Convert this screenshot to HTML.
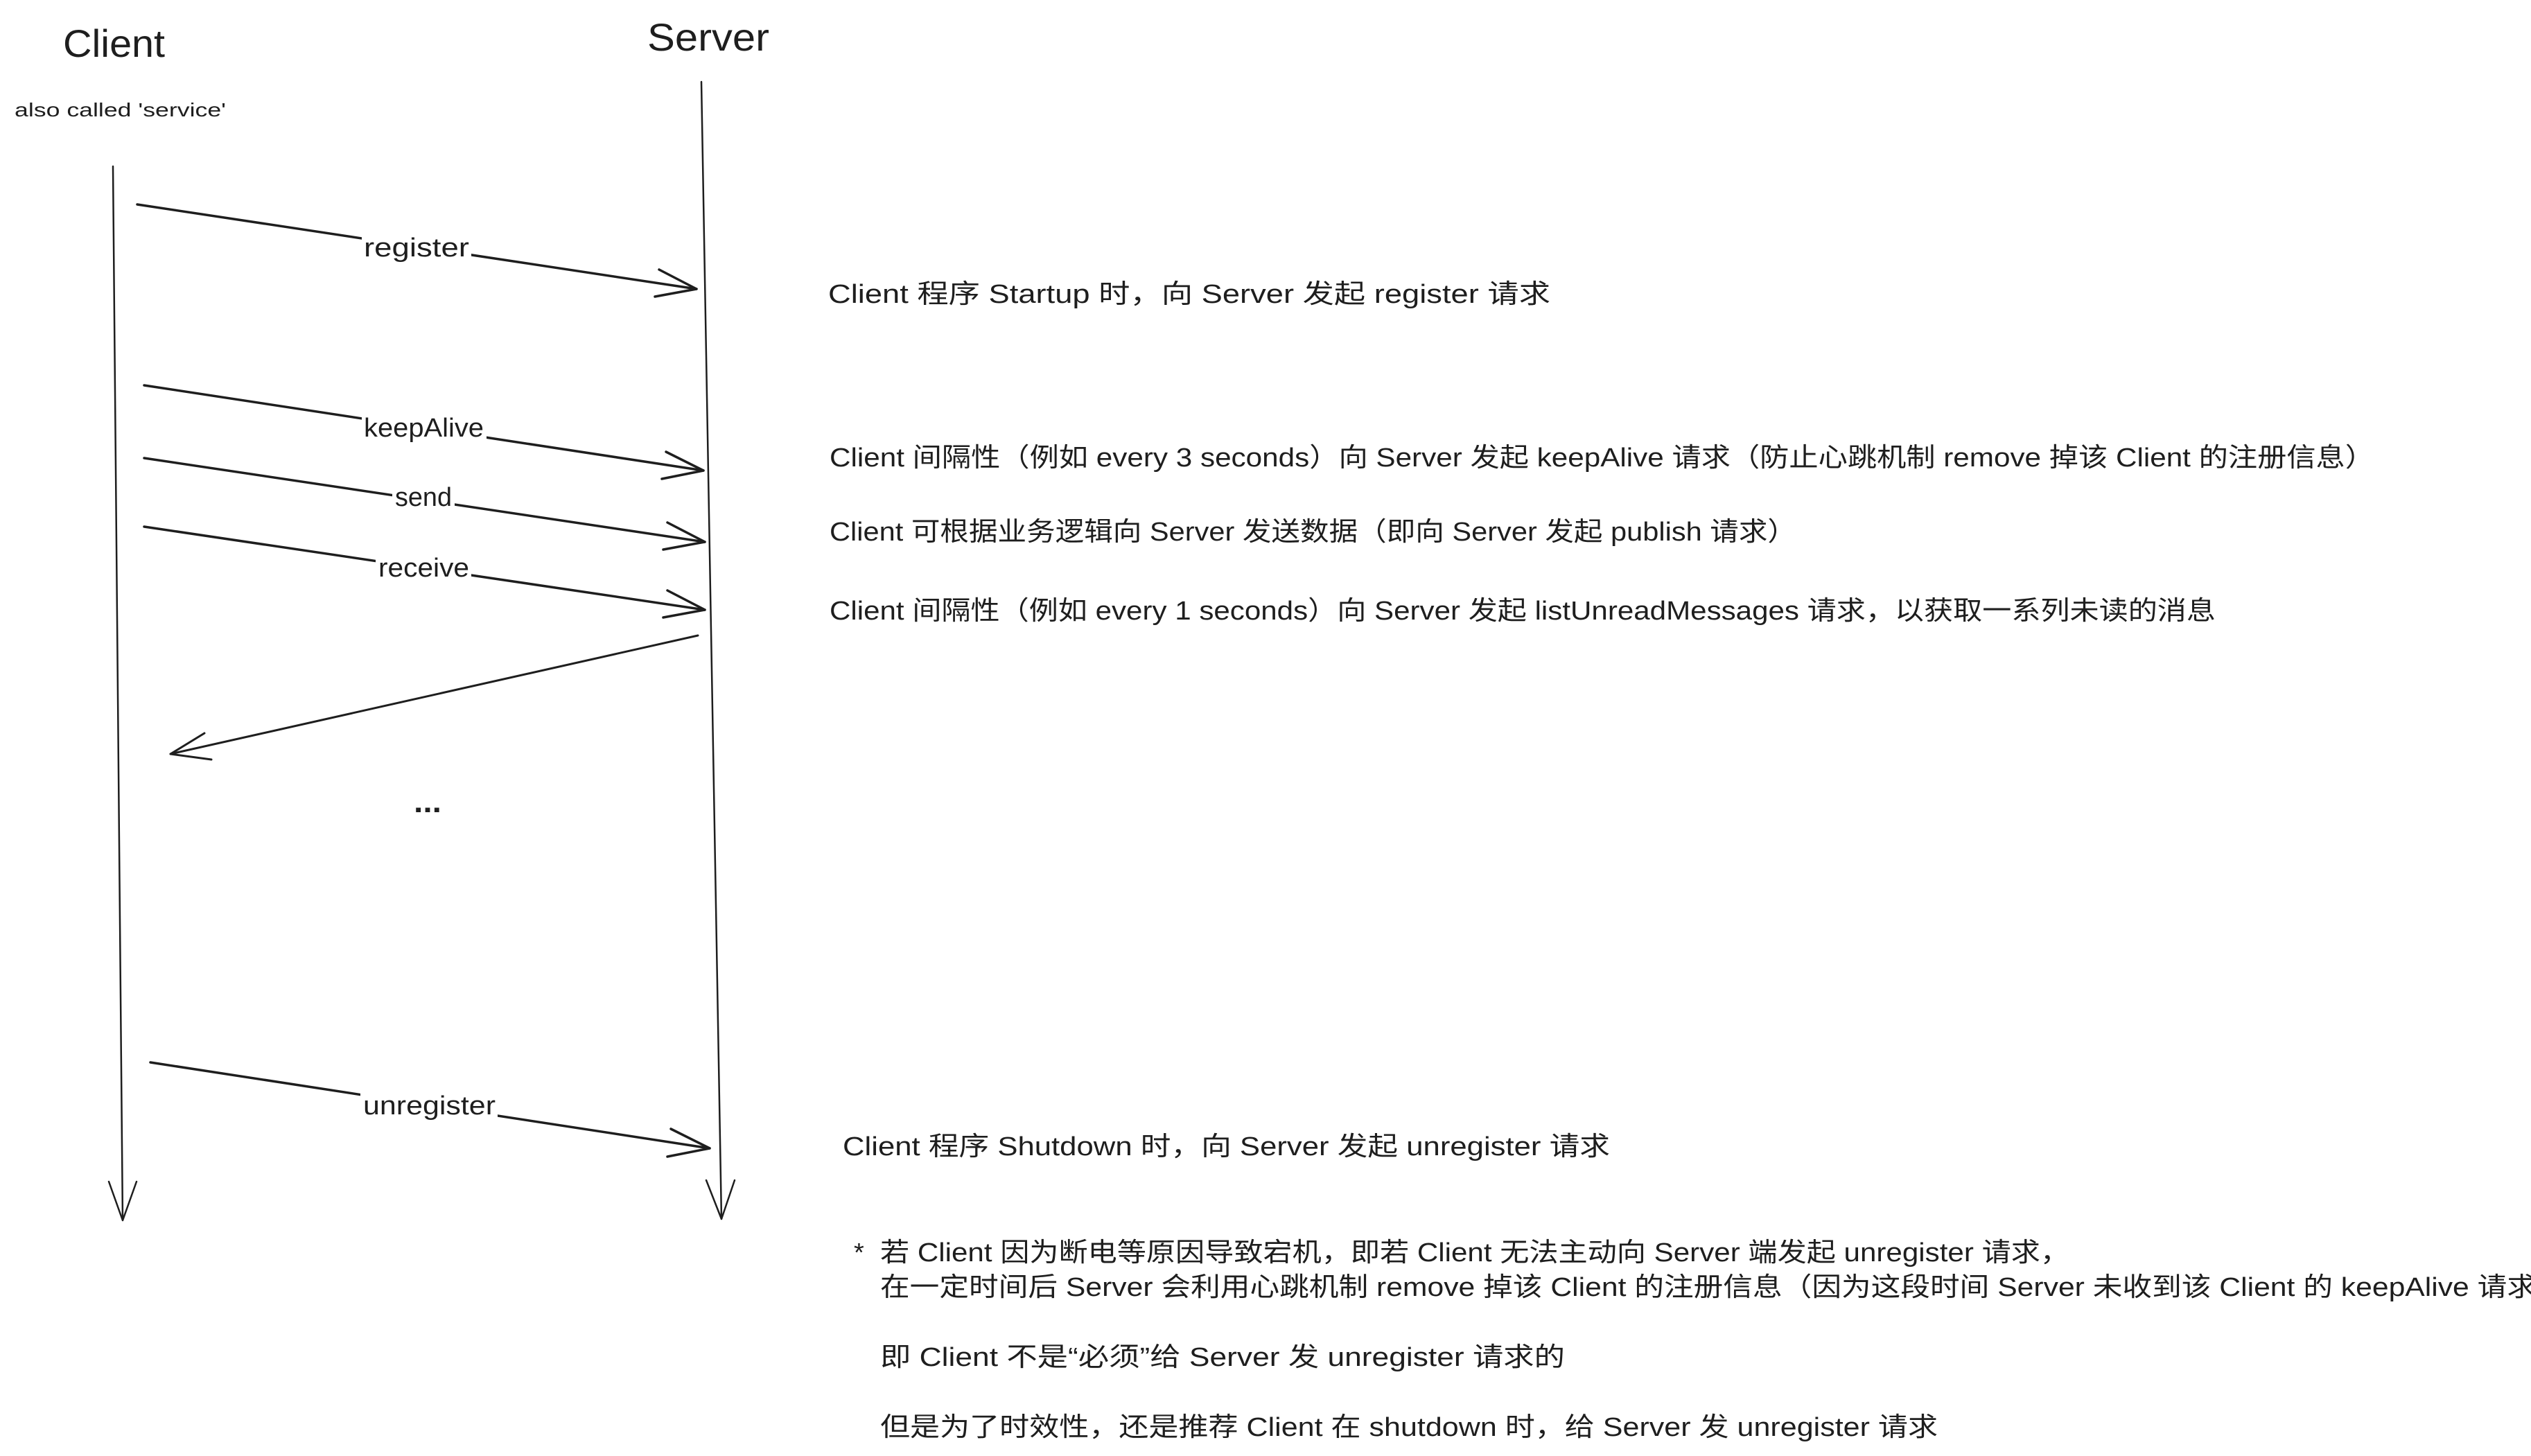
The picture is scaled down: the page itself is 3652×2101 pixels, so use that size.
<!DOCTYPE html>
<html><head><meta charset="utf-8"><style>
html,body{margin:0;padding:0;background:#fff;}
svg{display:block;}
text{font-family:"Liberation Sans","Noto Sans CJK SC",sans-serif;fill:#1e1e1e;}
</style></head><body>
<svg width="3652" height="2101" viewBox="0 0 3652 2101" xmlns="http://www.w3.org/2000/svg">
<g stroke="#1e1e1e" fill="none" stroke-linecap="round" stroke-linejoin="round">
<path d="M163 240 L177 1761" stroke-width="2.5"/>
<path d="M157 1705 L177 1761 L197 1705" stroke-width="2.5"/>
<path d="M1012 118 L1041 1759" stroke-width="2.5"/>
<path d="M1019 1703 L1041 1759 L1060 1703" stroke-width="2.5"/>
<path d="M198 295 L1005 417" stroke-width="3.5"/>
<path d="M951 389 L1005 417 L945 428" stroke-width="3.5"/>
<path d="M208 556 L1015 679" stroke-width="3.5"/>
<path d="M961 652 L1015 679 L955 691" stroke-width="3.5"/>
<path d="M208 661 L1017 782" stroke-width="3.5"/>
<path d="M963 754 L1017 782 L957 793" stroke-width="3.5"/>
<path d="M208 760 L1017 880" stroke-width="3.5"/>
<path d="M963 852 L1017 880 L957 891" stroke-width="3.5"/>
<path d="M1007 917 L246 1088" stroke-width="3"/>
<path d="M295 1058 L246 1088 L305 1096" stroke-width="3"/>
<path d="M217 1533 L1024 1657" stroke-width="3.5"/>
<path d="M968 1629 L1024 1657 L963 1669" stroke-width="3.5"/>
</g>
<g fill="#fff">
<rect x="522" y="335" width="158" height="44"/>
<rect x="522" y="595" width="180" height="44"/>
<rect x="566" y="697" width="90" height="44"/>
<rect x="542" y="799" width="138" height="44"/>
<rect x="520" y="1574" width="198" height="44"/>
</g>
<text x="91" y="82" font-size="56" textLength="147" lengthAdjust="spacingAndGlyphs">Client</text>
<text x="934" y="73" font-size="56" textLength="176" lengthAdjust="spacingAndGlyphs">Server</text>
<text x="21" y="168" font-size="28" textLength="305" lengthAdjust="spacingAndGlyphs">also called 'service'</text>
<g font-size="38">
<text x="525" y="370" textLength="152" lengthAdjust="spacingAndGlyphs">register</text>
<text x="525" y="630" textLength="173" lengthAdjust="spacingAndGlyphs">keepAlive</text>
<text x="570" y="730" textLength="82" lengthAdjust="spacingAndGlyphs">send</text>
<text x="546" y="832" textLength="131" lengthAdjust="spacingAndGlyphs">receive</text>
<text x="524" y="1608" textLength="191" lengthAdjust="spacingAndGlyphs">unregister</text>
</g>
<text x="597" y="1172" font-size="44" font-weight="bold" textLength="40" lengthAdjust="spacingAndGlyphs">...</text>
<g font-size="38">
<text x="1195" y="437" textLength="1042" lengthAdjust="spacingAndGlyphs">Client 程序 Startup 时，向 Server 发起 register 请求</text>
<text x="1197" y="673" textLength="2229" lengthAdjust="spacingAndGlyphs">Client 间隔性（例如 every 3 seconds）向 Server 发起 keepAlive 请求（防止心跳机制 remove 掉该 Client 的注册信息）</text>
<text x="1197" y="780" textLength="1395" lengthAdjust="spacingAndGlyphs">Client 可根据业务逻辑向 Server 发送数据（即向 Server 发起 publish 请求）</text>
<text x="1197" y="894" textLength="2000" lengthAdjust="spacingAndGlyphs">Client 间隔性（例如 every 1 seconds）向 Server 发起 listUnreadMessages 请求，以获取一系列未读的消息</text>
<text x="1216" y="1667" textLength="1107" lengthAdjust="spacingAndGlyphs">Client 程序 Shutdown 时，向 Server 发起 unregister 请求</text>
<text x="1232" y="1820">*</text>
<text x="1270" y="1820" textLength="1716" lengthAdjust="spacingAndGlyphs">若 Client 因为断电等原因导致宕机，即若 Client 无法主动向 Server 端发起 unregister 请求，</text>
<text x="1270" y="1870" textLength="2390" lengthAdjust="spacingAndGlyphs">在一定时间后 Server 会利用心跳机制 remove 掉该 Client 的注册信息（因为这段时间 Server 未收到该 Client 的 keepAlive 请求</text>
<text x="1270" y="1971" textLength="988" lengthAdjust="spacingAndGlyphs">即 Client 不是“必须”给 Server 发 unregister 请求的</text>
<text x="1270" y="2072" textLength="1526" lengthAdjust="spacingAndGlyphs">但是为了时效性，还是推荐 Client 在 shutdown 时，给 Server 发 unregister 请求</text>
</g>
</svg>
</body></html>
